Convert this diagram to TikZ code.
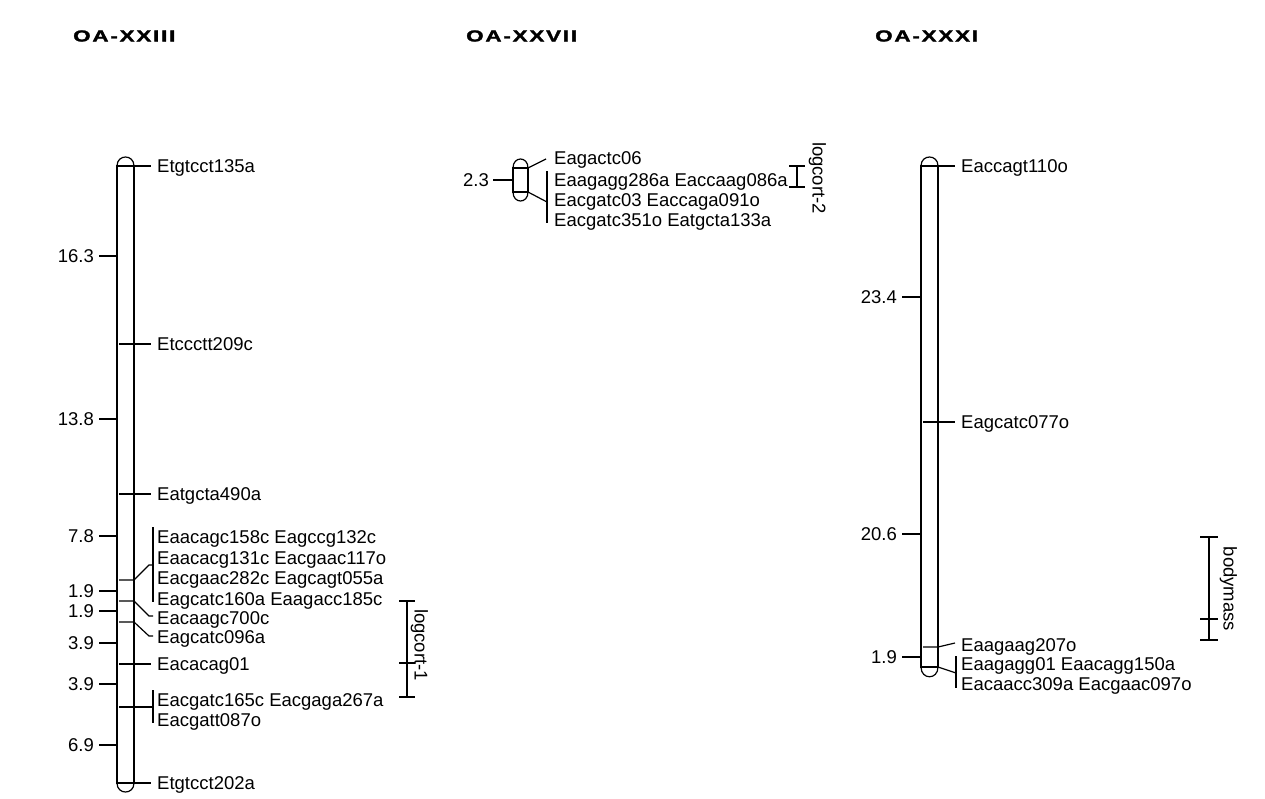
\documentclass[tikz,border=0pt]{standalone}
\usepackage{fontspec}
\usepackage{graphicx}
\setmainfont{Liberation Sans}
\newfontfamily\titlefam{Liberation Sans Bold}[LetterSpace=8,FakeBold=1.5]
\newcommand{\mkfont}{\fontsize{18.5}{20}\selectfont}
\newcommand{\ttl}[1]{\scalebox{1.4}[1]{\titlefam\fontsize{16}{16}\selectfont #1}}
\tikzset{
  ln/.style={line width=1.2pt, line join=miter},
  mk/.style={font=\mkfont, anchor=west, inner sep=0pt, text height=13pt, text depth=0pt},
  mkl/.style={font=\mkfont, anchor=west, inner xsep=6pt, inner ysep=0pt, text height=13pt, text depth=0pt},
  num/.style={font=\mkfont, anchor=east, inner sep=0pt, text height=13pt, text depth=0pt},
  qtl/.style={font=\mkfont, rotate=-90, inner sep=0pt, text height=13pt, text depth=0pt},
  ttlnode/.style={anchor=west, inner sep=0pt}
}
\begin{document}
\begin{tikzpicture}[x=1pt,y=-1pt]
\useasboundingbox[fill=white] (0,0) rectangle (1265,798);

% titles
\node[ttlnode] (t1) at (73,36) {\ttl{OA-XXIII}};
\node[ttlnode] (t2) at (466,36) {\ttl{OA-XXVII}};
\node[ttlnode] (t3) at (875,36) {\ttl{OA-XXXI}};

%% ---------------- Chromosome OA-XXIII ----------------
\draw[ln] (117,166) rectangle (134,783);
\draw[ln] (117,166) .. controls (117,154) and (134,154) .. (134,166);
\draw[ln] (117,783) .. controls (117,795) and (134,795) .. (134,783);
% interval ticks
\foreach \y/\v in {256/16.3,419/13.8,536/7.8,591/1.9,611/1.9,643/3.9,684/3.9,745/6.9}{
  \draw[ln] (99,\y) -- (117,\y);
  \node[num] at (94,\y) {\v};
}
% single markers
\node[mkl] (a1) at (151,166) {Etgtcct135a};
\draw[ln] (119,166) -- (a1.west);
\node[mkl] (a2) at (151,344) {Etccctt209c};
\draw[ln] (119,344) -- (a2.west);
\node[mkl] (a3) at (151,494) {Eatgcta490a};
\draw[ln] (119,494) -- (a3.west);
\node[mkl] (a8) at (151,664) {Eacacag01};
\draw[ln] (119,664) -- (a8.west);
\node[mkl] (a11) at (151,783) {Etgtcct202a};
\draw[ln] (119,783) -- (a11.west);
% group 1
\node[mk] (a4) at (157,537) {Eaacagc158c Eagccg132c};
\node[mk] (a4b) at (157,557.5) {Eaacacg131c Eacgaac117o};
\node[mk] (a4c) at (157,578) {Eacgaac282c Eagcagt055a};
\node[mk] (a4d) at (157,598.5) {Eagcatc160a Eaagacc185c};
\draw[ln] (119,580) -- (134,580) -- (149,565) -- (153,565);
\draw[ln] (153,527) -- (153,602);
% two offset markers
\node[mk] (a5) at (157,618) {Eacaagc700c};
\draw[ln] (119,601) -- (134,601) -- (149,616) -- (153,616);
\node[mk] (a6) at (157,637) {Eagcatc096a};
\draw[ln] (119,622) -- (134,622) -- (149,636) -- (153,636);
% group 2
\node[mk] (a9) at (157,700) {Eacgatc165c Eacgaga267a};
\node[mk] (a9b) at (157,720) {Eacgatt087o};
\draw[ln] (119,707) -- (153,707);
\draw[ln] (153,690) -- (153,723);
% QTL logcort-1
\draw[ln] (407,601) -- (407,697);
\draw[ln] (399,601) -- (415,601);
\draw[ln] (399,663) -- (415,663);
\draw[ln] (399,697) -- (415,697);
\node[qtl] (q1) at (421,645) {logcort-1};

%% ---------------- Chromosome OA-XXVII ----------------
\draw[ln] (513,168) rectangle (528,192);
\draw[ln] (513,168) .. controls (513,156) and (528,156) .. (528,168);
\draw[ln] (513,192) .. controls (513,204) and (528,204) .. (528,192);
\draw[ln] (493,180) -- (513,180);
\node[num] (n21) at (489,180) {2.3};
\node[mk] (b1) at (554,158) {Eagactc06};
\draw[ln] (528,168) -- (546,159);
\node[mk] (b2) at (554,180) {Eaagagg286a Eaccaag086a};
\node[mk] (b3) at (554,200) {Eacgatc03 Eaccaga091o};
\node[mk] (b4) at (554,220) {Eacgatc351o Eatgcta133a};
\draw[ln] (528,192) -- (547,202);
\draw[ln] (547,171) -- (547,223);
% QTL logcort-2
\draw[ln] (797,166) -- (797,187);
\draw[ln] (789,166) -- (805,166);
\draw[ln] (789,187) -- (805,187);
\node[qtl] (q2) at (819,178) {logcort-2};

%% ---------------- Chromosome OA-XXXI ----------------
\draw[ln] (921,166) rectangle (938,667);
\draw[ln] (921,166) .. controls (921,154) and (938,154) .. (938,166);
\draw[ln] (921,667) .. controls (921,680) and (938,680) .. (938,667);
\foreach \y/\v in {297/23.4,534/20.6,657/1.9}{
  \draw[ln] (902,\y) -- (921,\y);
  \node[num] at (897,\y) {\v};
}
\node[mkl] (c1) at (955,166) {Eaccagt110o};
\draw[ln] (923,166) -- (c1.west);
\node[mkl] (c2) at (955,422) {Eagcatc077o};
\draw[ln] (923,422) -- (c2.west);
\node[mk] (c3) at (961,645) {Eaagaag207o};
\draw[ln] (923,647) -- (938,647) -- (955,643);
\node[mk] (c4) at (961,664) {Eaagagg01 Eaacagg150a};
\node[mk] (c4b) at (961,684) {Eacaacc309a Eacgaac097o};
\draw[ln] (923,667) -- (938,667) -- (956,673);
\draw[ln] (956,656) -- (956,688);
% QTL bodymass
\draw[ln] (1209,537) -- (1209,640);
\draw[ln] (1200,537) -- (1218,537);
\draw[ln] (1200,619) -- (1218,619);
\draw[ln] (1200,640) -- (1218,640);
\node[qtl] (q3) at (1230,589) {bodymass};
\end{tikzpicture}
\end{document}
